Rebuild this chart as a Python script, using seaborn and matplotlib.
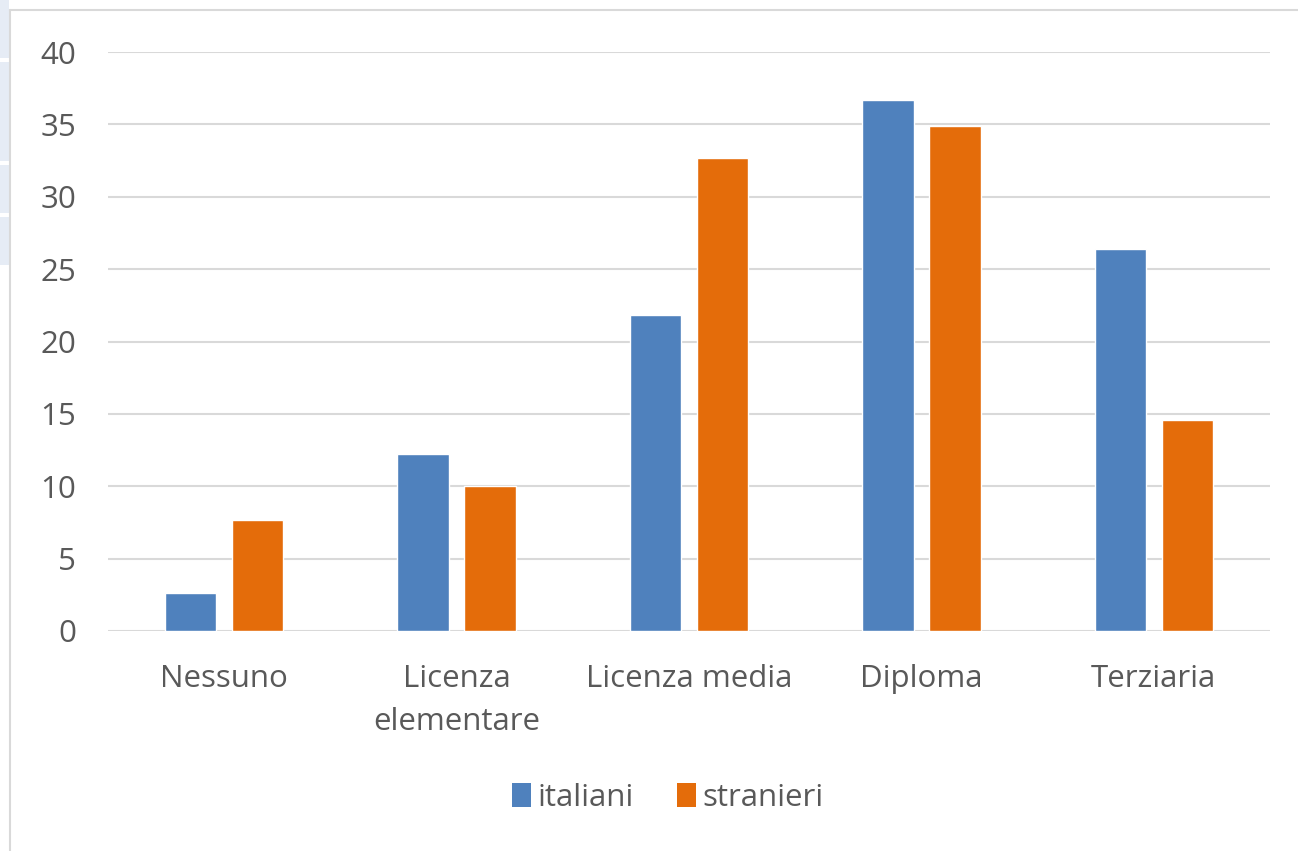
import pandas as pd
import seaborn as sns
import matplotlib.pyplot as plt
from matplotlib.patches import Patch, Rectangle
from matplotlib.lines import Line2D

categorie = ["Nessuno", "Licenza\nelementare", "Licenza media", "Diploma", "Terziaria"]
italiani = [2.6, 12.2, 21.8, 36.7, 26.4]
stranieri = [7.7, 10.0, 32.7, 34.9, 14.6]
gruppi = ["italiani", "stranieri"]
colori = ["#4F81BD", "#E46C0A"]

df = pd.DataFrame({
    "categoria": categorie * 2,
    "valore": italiani + stranieri,
    "gruppo": ["italiani"] * len(categorie) + ["stranieri"] * len(categorie),
})

sns.set_style("white")
plt.rcParams['font.family'] = ['Open Sans', 'DejaVu Sans']
grigio = "#595959"

fig = plt.figure(figsize=(12.98, 8.51), dpi=100)
ax = fig.add_axes([108 / 1298, 220 / 851, 1162 / 1298, 579 / 851])

sns.barplot(data=df, x="categoria", y="valore", hue="gruppo", order=categorie,
            hue_order=gruppi, palette=colori, width=0.578, gap=0.235,
            saturation=1, legend=False, ax=ax, zorder=3)

ax.set_ylim(0, 40)
ax.set_xlim(-0.5, len(categorie) - 0.5)
ax.set_yticks(range(0, 41, 5))
ax.yaxis.grid(True, color="#D9D9D9", linewidth=1.5, zorder=0)
ax.set_axisbelow(True)
for s in ax.spines.values():
    s.set_visible(False)
ax.tick_params(axis="both", length=0, labelsize=22.5, labelcolor=grigio)
ax.tick_params(axis="y", pad=23)
ax.tick_params(axis="x", pad=24)
ax.set_xlabel("")
ax.set_ylabel("")
for lab in ax.get_xticklabels():
    lab.set_linespacing(1.55)
    lab.set_verticalalignment("top")

handles = [Patch(facecolor=c, edgecolor="none", label=g) for g, c in zip(gruppi, colori)]
fig.legend(handles=handles, loc="center", bbox_to_anchor=(668 / 1298, 1 - 798 / 851),
           ncol=2, frameon=False, fontsize=22.5, handlelength=0.6, handleheight=0.8,
           handletextpad=0.2, columnspacing=1.4, labelcolor=grigio)

# cornice e bordo sinistro dello screenshot
fig.add_artist(Line2D([10 / 1298, 1], [1 - 10 / 851, 1 - 10 / 851], color="#D9D9D9",
                      linewidth=1.5, transform=fig.transFigure))
fig.add_artist(Line2D([10 / 1298, 10 / 1298], [0, 1 - 10 / 851], color="#D9D9D9",
                      linewidth=1.5, transform=fig.transFigure))
for y0, y1 in [(0, 58), (62, 161), (165, 213), (217, 265)]:
    fig.add_artist(Rectangle((0, 1 - y1 / 851), 9 / 1298, (y1 - y0) / 851,
                             facecolor="#E6ECF5", edgecolor="none", transform=fig.transFigure))

fig.savefig("out.png", dpi=100)
